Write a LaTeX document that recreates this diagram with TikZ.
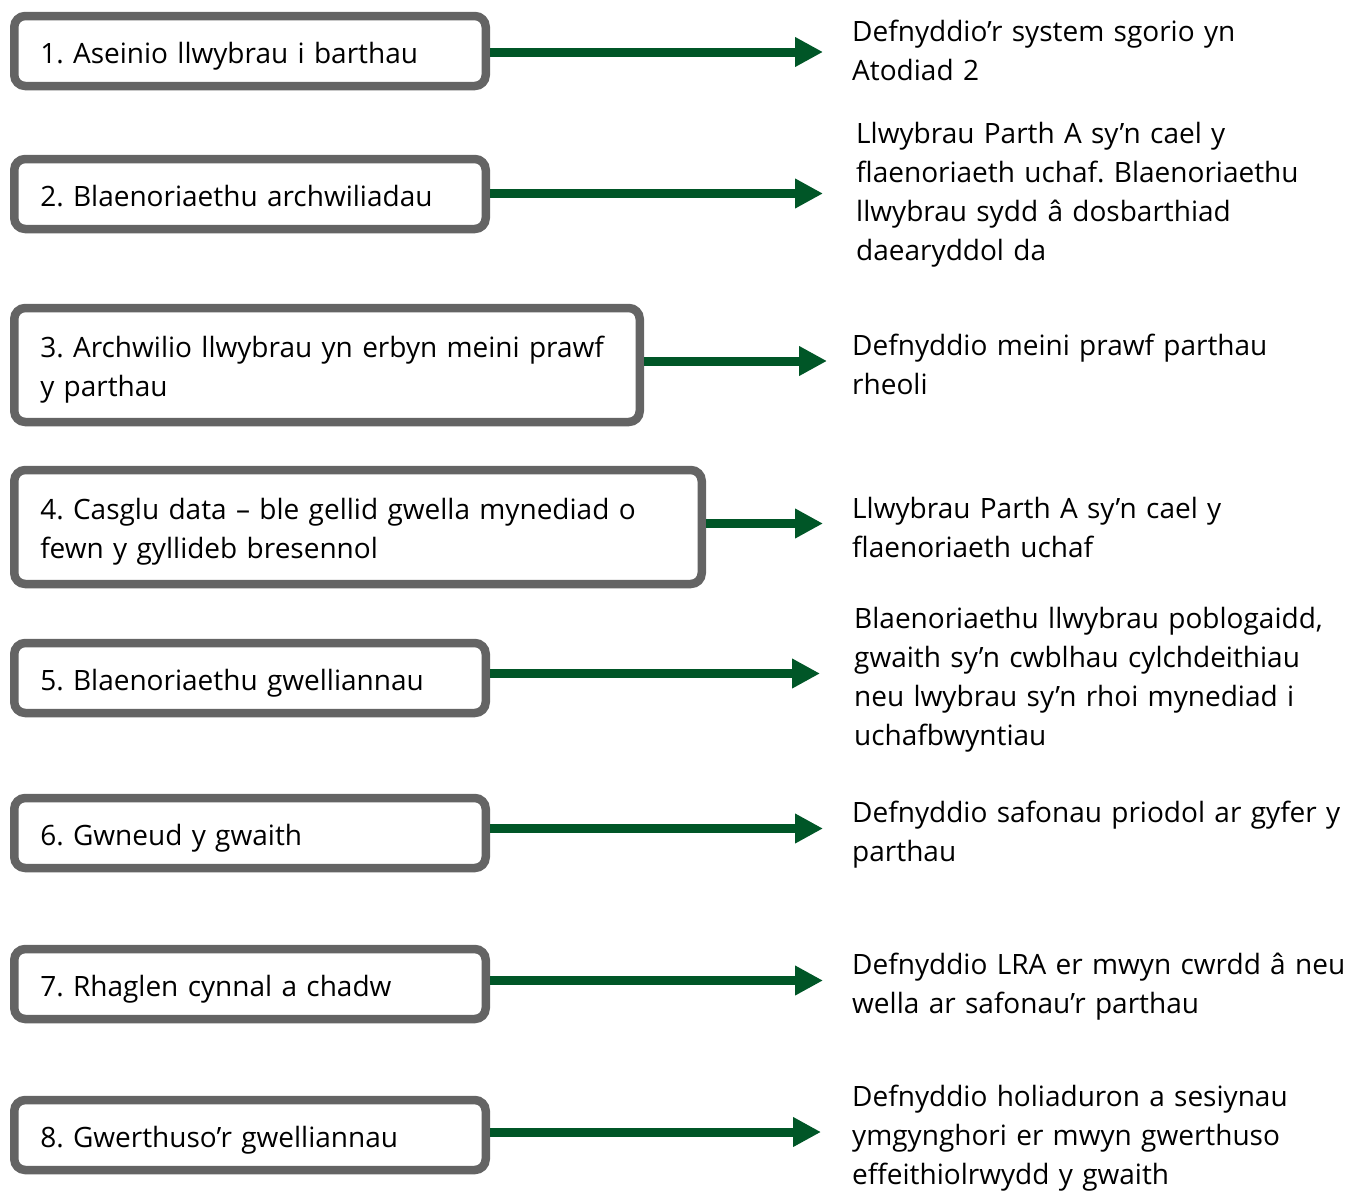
\documentclass[tikz,border=0pt]{standalone}
\usepackage{fontspec}
\setmainfont{Open Sans}
\frenchspacing
\usetikzlibrary{arrows.meta}
\definecolor{boxgray}{RGB}{100,100,100}
\definecolor{arrgreen}{RGB}{0,86,39}
\begin{document}
\begin{tikzpicture}[x=1pt,y=-1pt,
  stepbox/.style={draw=boxgray, line width=8.5pt, rounded corners=11pt, fill=white,
    minimum height=70pt, inner xsep=26pt, inner ysep=0pt, align=left, anchor=west,
    text height=24pt, text depth=0pt, font=\fontsize{28}{39}\selectfont},
  twoline/.style={minimum height=114pt, text depth=39pt},
  desc/.style={anchor=base west, inner sep=0pt, align=left, text width=495pt,
    font=\fontsize{28}{39}\selectfont},
  flow/.style={draw=arrgreen, line width=9pt, -{Triangle[length=28pt,width=28pt]}}]
\useasboundingbox (0,0) rectangle (1348,1191);

% boxes
\node[stepbox, minimum width=471.5pt, text width=419.5pt] (b1) at (10,51) {1. Aseinio llwybrau i barthau};
\node[stepbox, minimum width=471.5pt, text width=419.5pt] (b2) at (10,194) {2. Blaenoriaethu archwiliadau};
\node[stepbox, twoline, minimum width=625.5pt, text width=573.5pt] (b3) at (10,365) {\mbox{3. Archwilio llwybrau yn erbyn meini prawf}\\y parthau};
\node[stepbox, twoline, minimum width=687.5pt, text width=635.5pt] (b4) at (10,527) {\mbox{4. Casglu data – ble gellid gwella mynediad o}\\fewn y gyllideb bresennol};
\node[stepbox, minimum width=471.5pt, text width=419.5pt] (b5) at (10,678) {5. Blaenoriaethu gwelliannau};
\node[stepbox, minimum width=471.5pt, text width=419.5pt] (b6) at (10,833) {6. Gwneud y gwaith};
\node[stepbox, minimum width=471.5pt, text width=419.5pt] (b7) at (10,984) {7. Rhaglen cynnal a chadw};
\node[stepbox, minimum width=471.5pt, text width=419.5pt] (b8) at (10,1135) {8. Gwerthuso’r gwelliannau};

% descriptions
\node[desc] (d1) at (852,41) {Defnyddio’r system sgorio yn\\Atodiad 2};
\node[desc] (d2) at (856,143) {Llwybrau Parth A sy’n cael y\\flaenoriaeth uchaf. Blaenoriaethu\\llwybrau sydd â dosbarthiad\\daearyddol da};
\node[desc] (d3) at (852,355) {Defnyddio meini prawf parthau\\rheoli};
\node[desc] (d4) at (852,518) {Llwybrau Parth A sy’n cael y\\flaenoriaeth uchaf};
\node[desc] (d5) at (854,628) {Blaenoriaethu llwybrau poblogaidd,\\gwaith sy’n cwblhau cylchdeithiau\\neu lwybrau sy’n rhoi mynediad i\\uchafbwyntiau};
\node[desc] (d6) at (852,822) {Defnyddio safonau priodol ar gyfer y\\parthau};
\node[desc] (d7) at (852,974) {Defnyddio LRA er mwyn cwrdd â neu\\wella ar safonau’r parthau};
\node[desc] (d8) at (852,1106) {Defnyddio holiaduron a sesiynau\\ymgynghori er mwyn gwerthuso\\effeithiolrwydd y gwaith};

% arrow tips
\coordinate (t1) at (823,52);
\coordinate (t2) at (823,193.5);
\coordinate (t3) at (827,361);
\coordinate (t4) at (823,523.5);
\coordinate (t5) at (820,673.5);
\coordinate (t6) at (823,828.5);
\coordinate (t7) at (823,980.5);
\coordinate (t8) at (821,1132);

\draw[flow] (b1.east |- t1) -- (t1);
\draw[flow] (b2.east |- t2) -- (t2);
\draw[flow] (b3.east |- t3) -- (t3);
\draw[flow] (b4.east |- t4) -- (t4);
\draw[flow] (b5.east |- t5) -- (t5);
\draw[flow] (b6.east |- t6) -- (t6);
\draw[flow] (b7.east |- t7) -- (t7);
\draw[flow] (b8.east |- t8) -- (t8);
\end{tikzpicture}
\end{document}
